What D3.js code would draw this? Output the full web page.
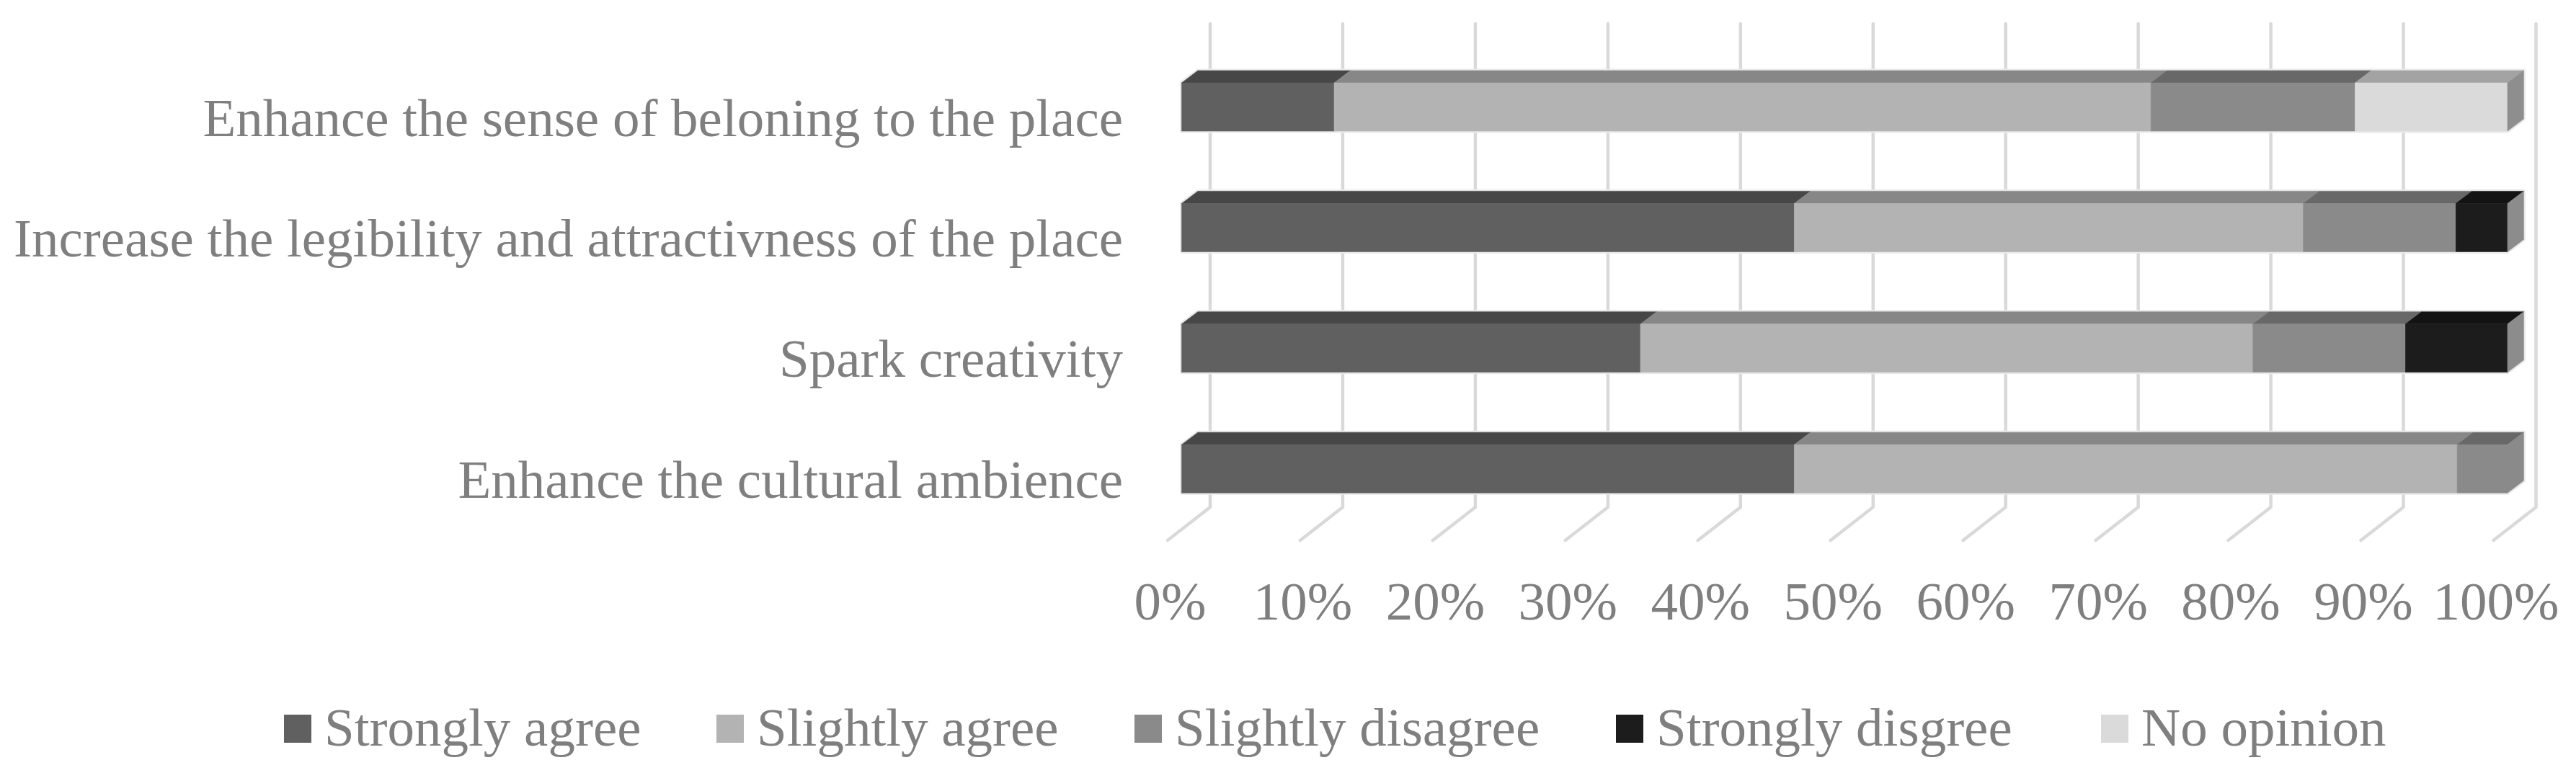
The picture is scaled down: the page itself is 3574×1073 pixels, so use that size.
<!DOCTYPE html>
<html>
<head>
<meta charset="utf-8">
<script src="https://cdn.jsdelivr.net/npm/d3@7"></script>
<style>
  html, body { margin: 0; padding: 0; background: #ffffff; }
  svg { display: block; }
  text { font-family: "Liberation Serif", "Times New Roman", serif; fill: #7f7f7f; }
</style>
</head>
<body>
<svg id="chart" width="3574" height="1073"></svg>
<script>
// ---------------- data ----------------
const categories = [
  "Enhance the sense of beloning to the place",
  "Increase the legibility and attractivness of the place",
  "Spark creativity",
  "Enhance the cultural ambience"
];
const seriesNames = ["Strongly agree", "Slightly agree", "Slightly disagree", "Strongly disgree", "No opinion"];
const stronglyAgree    = [11.5, 46.2, 34.6, 46.2];
const slightlyAgree    = [61.6, 38.4, 46.2, 50.0];
const slightlyDisagree = [15.4, 11.5, 11.5, 3.8];
const stronglyDisagree = [0.0, 3.9, 7.7, 0.0];
const noOpinion        = [11.5, 0.0, 0.0, 0.0];
const tickValues = [0, 10, 20, 30, 40, 50, 60, 70, 80, 90, 100];
const tickLabels = ["0%", "10%", "20%", "30%", "40%", "50%", "60%", "70%", "80%", "90%", "100%"];

// ---------------- styles ----------------
const frontColors = ["#606060", "#b3b3b3", "#8a8a8a", "#1c1c1c", "#dadada"];
const topColors   = ["#474747", "#878787", "#686868", "#131313", "#a3a3a3"];
const sideColors  = ["#4f4f4f", "#8e8e8e", "#8a8a8a", "#8c8c8c", "#8e8e8e"];

// ---------------- layout ----------------
const svg = d3.select("#chart");
const FONT = 75;
const x = d3.scaleLinear().domain([0, 100]).range([1639.5, 3479]);   // bar front plane
const y = d3.scaleBand().domain(categories).range([64.8, 734.4]).paddingInner(0.6).paddingOuter(0.3);
const BAR_DX = 22.4, BAR_DY = 17;        // bar depth projection
const WALL_DX = 39.5, FLOOR_DX = -19.5;  // back wall / floor front offsets
const WALL_TOP = 33, WALL_BOTTOM = 704, FLOOR_FRONT = 750;

// stacked table
const table = categories.map((c, i) => {
  const vals = [stronglyAgree[i], slightlyAgree[i], slightlyDisagree[i], stronglyDisagree[i], noOpinion[i]];
  const total = d3.sum(vals);
  const row = { category: c };
  seriesNames.forEach((s, k) => row[s] = vals[k] / total * 100);
  return row;
});
const stacked = d3.stack().keys(seriesNames)(table);

// ---------------- gridlines ----------------
const grid = svg.append("g");
grid.selectAll("path").data(tickValues).join("path")
  .attr("d", v => {
    const bx = x(v) + WALL_DX, fx = x(v) + FLOOR_DX;
    return `M${bx},${WALL_TOP}L${bx},${WALL_BOTTOM}L${fx},${FLOOR_FRONT}`;
  })
  .attr("fill", "none")
  .attr("stroke", "#d9d9d9")
  .attr("stroke-width", 4.5)
  .attr("stroke-linecap", "round")
  .attr("stroke-linejoin", "round");

// ---------------- bars ----------------
const bars = svg.append("g");
categories.forEach((cat, ci) => {
  const y0 = y(cat), y1 = y(cat) + y.bandwidth();
  const segs = stacked.map((s, k) => ({ k, a: s[ci][0], b: s[ci][1] })).filter(d => d.b - d.a > 0.0001);
  const xs = x(0), xe = x(100);
  const g = bars.append("g");
  // faint silhouette shadow
  g.append("path")
    .attr("d", `M${xs},${y1}L${xs},${y0}L${xs + BAR_DX},${y0 - BAR_DY}L${xe + BAR_DX},${y0 - BAR_DY}L${xe + BAR_DX},${y1 - BAR_DY}L${xe},${y1}Z`)
    .attr("fill", "#ffffff").attr("stroke", "#e9e9e9").attr("stroke-width", 5).attr("stroke-linejoin", "round");
  // top faces
  g.selectAll("path.top").data(segs).join("path").attr("class", "top")
    .attr("d", d => `M${x(d.a)},${y0}L${x(d.a) + BAR_DX},${y0 - BAR_DY}L${x(d.b) + BAR_DX},${y0 - BAR_DY}L${x(d.b)},${y0}Z`)
    .attr("fill", d => topColors[d.k]).attr("stroke", d => topColors[d.k]).attr("stroke-width", 0.6);
  // front faces
  g.selectAll("rect.front").data(segs).join("rect").attr("class", "front")
    .attr("x", d => x(d.a)).attr("y", y0)
    .attr("width", d => x(d.b) - x(d.a)).attr("height", y.bandwidth())
    .attr("fill", d => frontColors[d.k]).attr("stroke", d => frontColors[d.k]).attr("stroke-width", 0.6);
  // right side face of the last segment
  const last = segs[segs.length - 1];
  g.append("path")
    .attr("d", `M${x(last.b)},${y0}L${x(last.b) + BAR_DX},${y0 - BAR_DY}L${x(last.b) + BAR_DX},${y1 - BAR_DY}L${x(last.b)},${y1}Z`)
    .attr("fill", sideColors[last.k]).attr("stroke", sideColors[last.k]).attr("stroke-width", 0.6);
});

// ---------------- category labels ----------------
svg.append("g").selectAll("text").data(categories).join("text")
  .attr("x", 1558)
  .attr("y", d => y(d) + y.bandwidth() / 2 + 40)
  .attr("text-anchor", "end")
  .attr("font-size", FONT)
  .text(d => d);

// ---------------- value axis labels ----------------
svg.append("g").selectAll("text").data(tickValues).join("text")
  .attr("x", v => x(v) + FLOOR_DX + 3.5)
  .attr("y", 860)
  .attr("text-anchor", "middle")
  .attr("font-size", FONT)
  .text((v, i) => tickLabels[i]);

// ---------------- legend ----------------
const legendX = [394, 994, 1574, 2242, 2915];
const lg = svg.append("g").selectAll("g").data(seriesNames).join("g")
  .attr("transform", (d, i) => `translate(${legendX[i]},0)`);
lg.append("rect").attr("x", 0).attr("y", 992).attr("width", 38).attr("height", 39)
  .attr("fill", (d, i) => frontColors[i]);
lg.append("text").attr("x", 56).attr("y", 1035).attr("font-size", FONT).text(d => d);
</script>
</body>
</html>
